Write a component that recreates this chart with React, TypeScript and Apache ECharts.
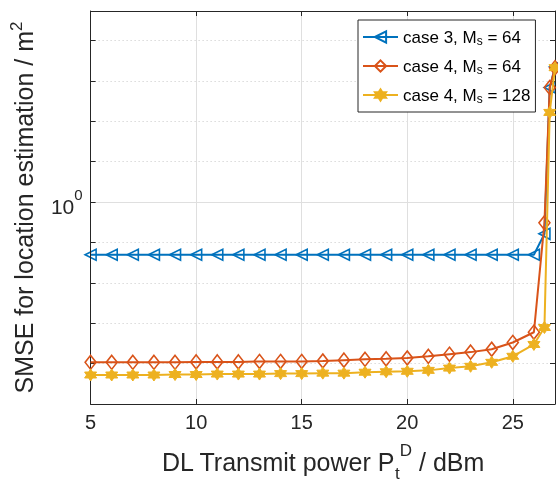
import React, { useEffect, useRef } from "react";
import * as echarts from "echarts";

const xValues = [5, 6, 7, 8, 9, 10, 11, 12, 13, 14, 15, 16, 17, 18, 19, 20, 21, 22, 23, 24, 25, 26, 26.5, 26.75, 27];
const case3Ms64 = [0.74, 0.74, 0.74, 0.74, 0.74, 0.74, 0.74, 0.74, 0.74, 0.74, 0.74, 0.74, 0.74, 0.74, 0.74, 0.74, 0.74, 0.74, 0.74, 0.74, 0.74, 0.74, 0.834, 1.92, 2.16];
const case4Ms64 = [0.401, 0.401, 0.401, 0.401, 0.401, 0.402, 0.402, 0.402, 0.403, 0.403, 0.403, 0.404, 0.406, 0.408, 0.409, 0.411, 0.415, 0.42, 0.425, 0.432, 0.449, 0.476, 0.888, 1.92, 2.15];
const case4Ms128 = [0.373, 0.373, 0.373, 0.373, 0.374, 0.374, 0.375, 0.375, 0.375, 0.376, 0.376, 0.377, 0.377, 0.379, 0.38, 0.381, 0.383, 0.388, 0.392, 0.401, 0.415, 0.444, 0.489, 1.666, 2.15];
const seriesNames = ["case3_64", "case4_64", "case4_128"];
const legendLabels: Record<string, string> = {
  case3_64: "case 3, M{sub|s} = 64",
  case4_64: "case 4, M{sub|s} = 64",
  case4_128: "case 4, M{sub|s} = 128",
};
const xTicks = { min: 5, max: 27, interval: 5 };
const yLog = { min: 0.3162, max: 2.97 };
const yMinor = { min: -0.5, max: 0.4727, interval: 0.1 };

const BLUE = "#0072BD";
const ORANGE = "#D95319";
const YELLOW = "#EDB120";
const AX = "#262626";
const FONT = "'Liberation Sans', Arial, Helvetica, sans-serif";
const HEX = "path://M50 0 L64.43 25 L93.3 25 L78.87 50 L93.3 75 L64.43 75 L50 100 L35.57 75 L6.7 75 L21.13 50 L6.7 25 L35.57 25 Z";

function pairs(ys: number[]) {
  return xValues.map((x, i) => [x, ys[i]]);
}

export default function App() {
  const ref = useRef<HTMLDivElement>(null);
  useEffect(() => {
    if (!ref.current) return;
    const chart = echarts.init(ref.current, undefined, { renderer: "svg" });
    const tickStyle = { show: true, inside: true, length: 5, lineStyle: { color: AX, width: 1 } };
    chart.setOption({
      animation: false,
      textStyle: { fontFamily: FONT },
      grid: { left: 90, top: 11, width: 466, height: 395, containLabel: false },
      legend: {
        orient: "vertical",
        left: 358,
        top: 20,
        data: seriesNames,
        itemWidth: 35,
        itemHeight: 14,
        itemGap: 9,
        itemTextGap: 3,
        padding: [7, 5, 7, 4],
        borderColor: AX,
        borderWidth: 1,
        backgroundColor: "#fff",
        formatter: (n: string) => legendLabels[n],
        textStyle: {
          fontFamily: FONT,
          fontSize: 17,
          color: "#000",
          lineHeight: 20,
          rich: { sub: { fontSize: 12, fontFamily: FONT, color: "#000", verticalAlign: "bottom", lineHeight: 7 } },
        },
      },
      xAxis: [
        {
          type: "value",
          position: "bottom",
          min: xTicks.min,
          max: xTicks.max,
          interval: xTicks.interval,
          z: 3,
          axisLine: { show: true, onZero: false, lineStyle: { color: AX, width: 1 } },
          axisTick: tickStyle,
          axisLabel: {
            fontSize: 20,
            color: AX,
            fontFamily: FONT,
            margin: 8,
            formatter: (v: number) => (v % 5 === 0 ? String(v) : ""),
          },
          splitLine: { show: true, lineStyle: { color: "#dfdfdf", width: 1, type: "solid" } },
          name: "DL Transmit power P{sub|t}{sup|D} / dBm",
          nameLocation: "middle",
          nameGap: 38,
          nameTextStyle: {
            fontSize: 25,
            color: AX,
            fontFamily: FONT,
            lineHeight: 40,
            rich: {
              sub: { fontSize: 17, color: AX, fontFamily: FONT, verticalAlign: "bottom", lineHeight: 17 },
              sup: { fontSize: 17, color: AX, fontFamily: FONT, verticalAlign: "top", lineHeight: 17 },
            },
          },
        },
        {
          type: "value",
          position: "top",
          min: xTicks.min,
          max: xTicks.max,
          interval: xTicks.interval,
          z: 3,
          axisLine: { show: true, onZero: false, lineStyle: { color: AX, width: 1 } },
          axisTick: tickStyle,
          axisLabel: { show: false },
          splitLine: { show: false },
        },
      ],
      yAxis: [
        {
          type: "log",
          logBase: 10,
          position: "left",
          min: yLog.min,
          max: yLog.max,
          z: 4,
          axisLine: { show: true, onZero: false, lineStyle: { color: AX, width: 1 } },
          axisTick: { show: false },
          splitLine: { show: false },
          minorSplitLine: { show: false },
          axisLabel: {
            margin: 8,
            formatter: (v: number) => (Math.abs(v - 1) < 1e-6 ? "{b|10}{s|0}" : ""),
            rich: {
              b: { fontSize: 21, color: AX, fontFamily: FONT, lineHeight: 30, verticalAlign: "bottom" },
              s: { fontSize: 15, color: AX, fontFamily: FONT, lineHeight: 15, verticalAlign: "top" },
            },
          },
          name: "SMSE for location estimation / m{sup|2}",
          nameLocation: "middle",
          nameGap: 34,
          nameTextStyle: {
            fontSize: 25,
            color: AX,
            fontFamily: FONT,
            lineHeight: 32,
            rich: { sup: { fontSize: 17, color: AX, fontFamily: FONT, verticalAlign: "top", lineHeight: 17 } },
          },
        },
        {
          type: "value",
          position: "left",
          min: yMinor.min,
          max: yMinor.max,
          interval: yMinor.interval,
          z: 1,
          axisLine: { show: false, onZero: false },
          axisTick: tickStyle,
          axisLabel: { show: false },
          splitLine: { show: true, lineStyle: { color: "#c8c8c8", width: 1, type: [1, 3] } },
        },
        {
          type: "value",
          position: "right",
          min: yMinor.min,
          max: yMinor.max,
          interval: yMinor.interval,
          z: 4,
          axisLine: { show: true, onZero: false, lineStyle: { color: AX, width: 1 } },
          axisTick: tickStyle,
          axisLabel: { show: false },
          splitLine: { show: false },
        },
      ],
      series: [
        {
          name: seriesNames[0],
          type: "line",
          xAxisIndex: 0,
          yAxisIndex: 0,
          data: pairs(case3Ms64),
          symbol: "triangle",
          symbolRotate: 90,
          symbolSize: 11,
          showAllSymbol: true,
          lineStyle: { color: BLUE, width: 2 },
          itemStyle: { color: "rgba(255,255,255,0)", borderColor: BLUE, borderWidth: 1.6 },
          z: 3,
          markLine: {
            silent: true,
            symbol: ["none", "none"],
            label: { show: false },
            lineStyle: { color: "#dfdfdf", width: 1, type: "solid" },
            data: [{ yAxis: 1 }],
            z: 1,
          },
        },
        {
          name: seriesNames[1],
          type: "line",
          xAxisIndex: 0,
          yAxisIndex: 0,
          data: pairs(case4Ms64),
          symbol: "diamond",
          symbolSize: [11, 14],
          showAllSymbol: true,
          lineStyle: { color: ORANGE, width: 2 },
          itemStyle: { color: "rgba(255,255,255,0)", borderColor: ORANGE, borderWidth: 1.6 },
          z: 4,
        },
        {
          name: seriesNames[2],
          type: "line",
          xAxisIndex: 0,
          yAxisIndex: 0,
          data: pairs(case4Ms128),
          symbol: HEX,
          symbolSize: 12,
          showAllSymbol: true,
          lineStyle: { color: YELLOW, width: 2 },
          itemStyle: { color: YELLOW, borderColor: YELLOW, borderWidth: 1 },
          z: 5,
        },
      ],
    });
    return () => chart.dispose();
  }, []);
  return <div ref={ref} style={{ position: "fixed", left: 0, top: 0, width: 558, height: 487 }} />;
}
